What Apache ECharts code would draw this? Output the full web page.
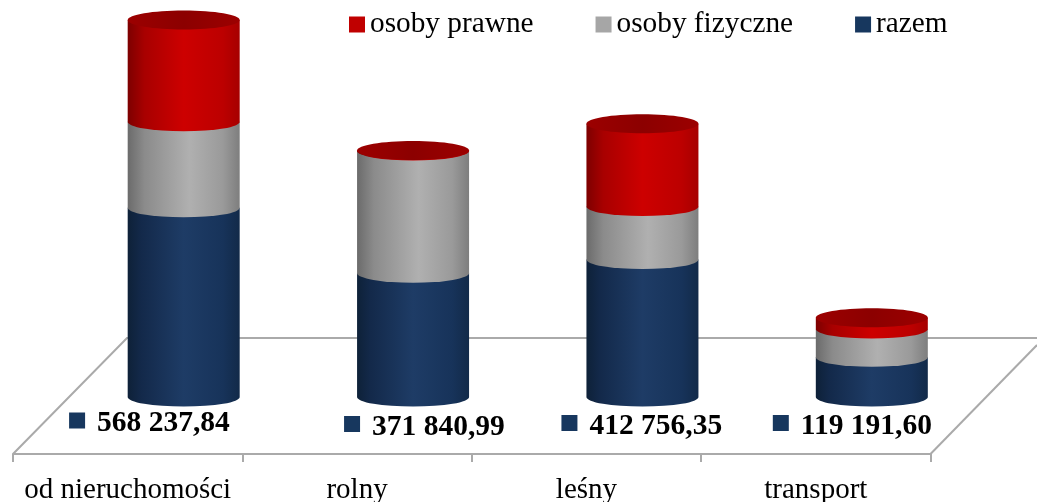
<!DOCTYPE html>
<html>
<head>
<meta charset="utf-8">
<title>Podatki</title>
<script src="https://cdn.jsdelivr.net/npm/echarts@6/dist/echarts.min.js"></script>
<style>
  html, body { margin: 0; padding: 0; background: #fff; }
  #chart { width: 1037px; height: 502px; }
</style>
</head>
<body>
<div id="chart"></div>
<script>
const categories = ["od nieruchomości", "rolny", "leśny", "transport"];
const razem = [568237.84, 371840.99, 412756.35, 119191.6];
const osobyFizyczne = [258000, 367000, 159000, 85000];
const osobyPrawne = [306000, 1500, 249000, 34000];

const FONT = '"Liberation Serif", "Times New Roman", serif';
const RX = 56;
const RY = 9.5;

// hand placed value labels, the source chart has them slightly out of line
const labelDx = [-58.6, -13, -25, -43];
const labelDy = [-33.5, -30, -31, -31];

const hGrad = (stops) => ({
  type: "linear", x: 0, y: 0, x2: 1, y2: 0,
  colorStops: stops.map((s) => ({ offset: s[0], color: s[1] }))
});

const fills = {
  navy: hGrad([[0, "#0e2138"], [0.12, "#13294a"], [0.5, "#1e3c66"], [0.85, "#17335a"], [1, "#122a49"]]),
  gray: hGrad([[0, "#6b6b6b"], [0.15, "#8b8b8b"], [0.55, "#b0b0b0"], [0.85, "#9a9a9a"], [1, "#7e7e7e"]]),
  red: hGrad([[0, "#7d0000"], [0.15, "#a80000"], [0.5, "#cd0000"], [0.85, "#bc0000"], [1, "#a60000"]]),
  cap: hGrad([[0, "#9c0000"], [0.5, "#8c0000"], [1, "#9c0000"]])
};

const fmt = (v) =>
  v.toFixed(2).replace(".", ",").replace(/\B(?=(\d{3})+(?!\d))/g, " ");

function cylinderSeries(name, color, fill, values, below, withCap) {
  return {
    name,
    type: "custom",
    xAxisIndex: 1,
    yAxisIndex: 1,
    itemStyle: { color },
    encode: { x: 0, y: [1, 2] },
    data: values.map((v, i) => [i, below[i], below[i] + v]),
    renderItem: (params, api) => {
      const bot = api.coord([api.value(0), api.value(1)]);
      const top = api.coord([api.value(0), api.value(2)]);
      const l = bot[0] - RX;
      const r = bot[0] + RX;
      const children = [
        {
          type: "path",
          shape: {
            pathData: `M${l} ${top[1]}L${l} ${bot[1]}A${RX} ${RY} 0 0 0 ${r} ${bot[1]}L${r} ${top[1]}Z`
          },
          style: { fill }
        }
      ];
      if (withCap) {
        children.push({
          type: "ellipse",
          shape: { cx: top[0], cy: top[1], rx: RX, ry: RY },
          style: { fill: fills.cap }
        });
      }
      return { type: "group", children };
    }
  };
}

const zeros = categories.map(() => 0);
const belowPrawne = razem.map((v, i) => v + osobyFizyczne[i]);

const labelSeries = {
  name: "etykiety",
  type: "custom",
  xAxisIndex: 0,
  yAxisIndex: 0,
  data: razem.map((v, i) => [i, 0, v]),
  encode: { x: 0, y: 1 },
  renderItem: (params, api) => {
    const i = api.value(0);
    const p = api.coord([i, 0]);
    const x = p[0] + labelDx[i];
    const y = p[1] + labelDy[i];
    return {
      type: "group",
      children: [
        { type: "rect", shape: { x, y: y - 8, width: 16, height: 16 }, style: { fill: "#17375e" } },
        {
          type: "text",
          x: x + 28,
          y: y + 3,
          style: {
            text: fmt(api.value(2)),
            fill: "#000",
            font: `bold 29.5px ${FONT}`,
            textAlign: "left",
            textVerticalAlign: "middle"
          }
        }
      ]
    };
  }
};

const chart = echarts.init(document.getElementById("chart"), null, { renderer: "canvas" });

chart.setOption({
  animation: false,
  backgroundColor: "#fff",
  legend: {
    data: ["osoby prawne", "osoby fizyczne", "razem"],
    left: 344,
    top: 5,
    icon: "rect",
    itemWidth: 16,
    itemHeight: 16,
    itemGap: 62,
    itemTextGap: 5,
    itemStyle: { borderWidth: 0 },
    textStyle: { fontFamily: FONT, fontSize: 29.3, color: "#000" }
  },
  grid: [
    { left: 13, width: 917.5, top: 300, height: 154, outerBoundsMode: "none" },
    { left: 69, width: 917.5, top: 14, height: 383, outerBoundsMode: "none" }
  ],
  xAxis: [
    {
      type: "category",
      gridIndex: 0,
      data: categories,
      axisLine: { lineStyle: { color: "#aaaaaa", width: 2 } },
      axisTick: { show: true, inside: false, length: 8, lineStyle: { color: "#aaaaaa", width: 2 } },
      axisLabel: { color: "#000", fontFamily: FONT, fontSize: 29, margin: 22, interval: 0 }
    },
    { type: "category", gridIndex: 1, data: categories, show: false }
  ],
  yAxis: [
    { type: "value", gridIndex: 0, min: 0, max: 1, show: false },
    { type: "value", gridIndex: 1, min: 0, max: 1150000, show: false }
  ],
  graphic: {
    elements: [
      {
        type: "polyline",
        z: -1,
        silent: true,
        shape: { points: [[13, 454], [127, 338], [1037, 338]] },
        style: { stroke: "#aaaaaa", lineWidth: 2, fill: null }
      },
      {
        type: "line",
        z: -1,
        silent: true,
        shape: { x1: 930.5, y1: 454, x2: 1037, y2: 345 },
        style: { stroke: "#aaaaaa", lineWidth: 2 }
      }
    ]
  },
  series: [
    cylinderSeries("razem", "#17375e", fills.navy, razem, zeros, false),
    cylinderSeries("osoby fizyczne", "#a6a6a6", fills.gray, osobyFizyczne, razem, false),
    cylinderSeries("osoby prawne", "#c00000", fills.red, osobyPrawne, belowPrawne, true),
    labelSeries
  ]
});
</script>
</body>
</html>
